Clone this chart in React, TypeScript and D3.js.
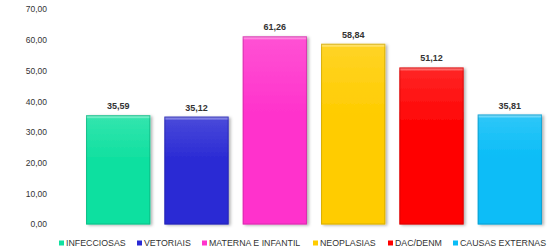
import { useMemo } from "react";
import * as d3 from "d3";

const categories = ["INFECCIOSAS", "VETORIAIS", "MATERNA E INFANTIL", "NEOPLASIAS", "DAC/DENM", "CAUSAS EXTERNAS"];
const values = [35.59, 35.12, 61.26, 58.84, 51.12, 35.81];
const colors = ["#10e0a0", "#2a2ad4", "#ff33cc", "#ffcc00", "#ff0000", "#0abdf7"];
const yTicks = [0, 10, 20, 30, 40, 50, 60, 70];

const WIDTH = 554;
const HEIGHT = 251;
const FONT = "'Liberation Sans', Arial, sans-serif";

const fmt = (v: number) => v.toFixed(2).replace(".", ",");

function App() {
  const xScale = useMemo(
    () => d3.scaleBand().domain(categories).range([79, 549]).paddingInner(0.18).paddingOuter(0.09),
    []
  );
  const yScale = useMemo(() => d3.scaleLinear().domain([0, 70]).range([224.5, 9.5]), []);

  const legendX = [59, 137, 202, 313, 388, 453];

  return (
    <svg
      width={WIDTH}
      height={HEIGHT}
      style={{ position: "absolute", left: 0, top: 0, background: "#fff" }}
      fontFamily={FONT}
    >
      <defs>
        {colors.map((c, i) => (
          <linearGradient key={i} id={`g${i}`} x1="0" x2="0" y1="0" y2="1">
            <stop offset="0" stopColor={d3.interpolateRgb(c, "#fff")(0.15)} />
            <stop offset="0.4" stopColor={c} />
            <stop offset="1" stopColor={c} />
          </linearGradient>
        ))}
        <filter id="shadow" x="-10%" y="-10%" width="130%" height="130%">
          <feDropShadow dx="2" dy="1" stdDeviation="1.5" floodColor="#000" floodOpacity="0.3" />
        </filter>
      </defs>

      {yTicks.map((t) => (
        <text
          key={t}
          x={47}
          y={yScale(t)}
          dy="0.35em"
          textAnchor="end"
          fontSize={8.5}
          fill="#333"
        >
          {fmt(t)}
        </text>
      ))}

      {categories.map((c, i) => {
        const x = xScale(c)!;
        const w = xScale.bandwidth();
        const y = yScale(values[i]);
        const h = yScale(0) - y;
        const col = d3.color(colors[i])!;
        return (
          <g key={c}>
            <rect x={x} y={y} width={w} height={h} fill={`url(#g${i})`} filter="url(#shadow)" />
            <rect x={x} y={y} width={w} height={3} fill="#fff" opacity={0.3} />
            <rect
              x={x + 0.5}
              y={y + 0.5}
              width={w - 1}
              height={h - 1}
              fill="none"
              stroke={col.darker(0.8).formatHex()}
              strokeOpacity={0.6}
            />
            <text
              x={x + w / 2}
              y={y - 6}
              textAnchor="middle"
              fontSize={9}
              fontWeight="bold"
              fill="#333"
            >
              {fmt(values[i])}
            </text>
          </g>
        );
      })}

      {categories.map((c, i) => (
        <g key={c} transform={`translate(${legendX[i]},243)`}>
          <rect x={0} y={-2.5} width={5} height={5} fill={colors[i]} />
          <text x={7} y={0} dy="0.35em" fontSize={8.8} fill="#333">
            {c}
          </text>
        </g>
      ))}
    </svg>
  );
}

export default App;
